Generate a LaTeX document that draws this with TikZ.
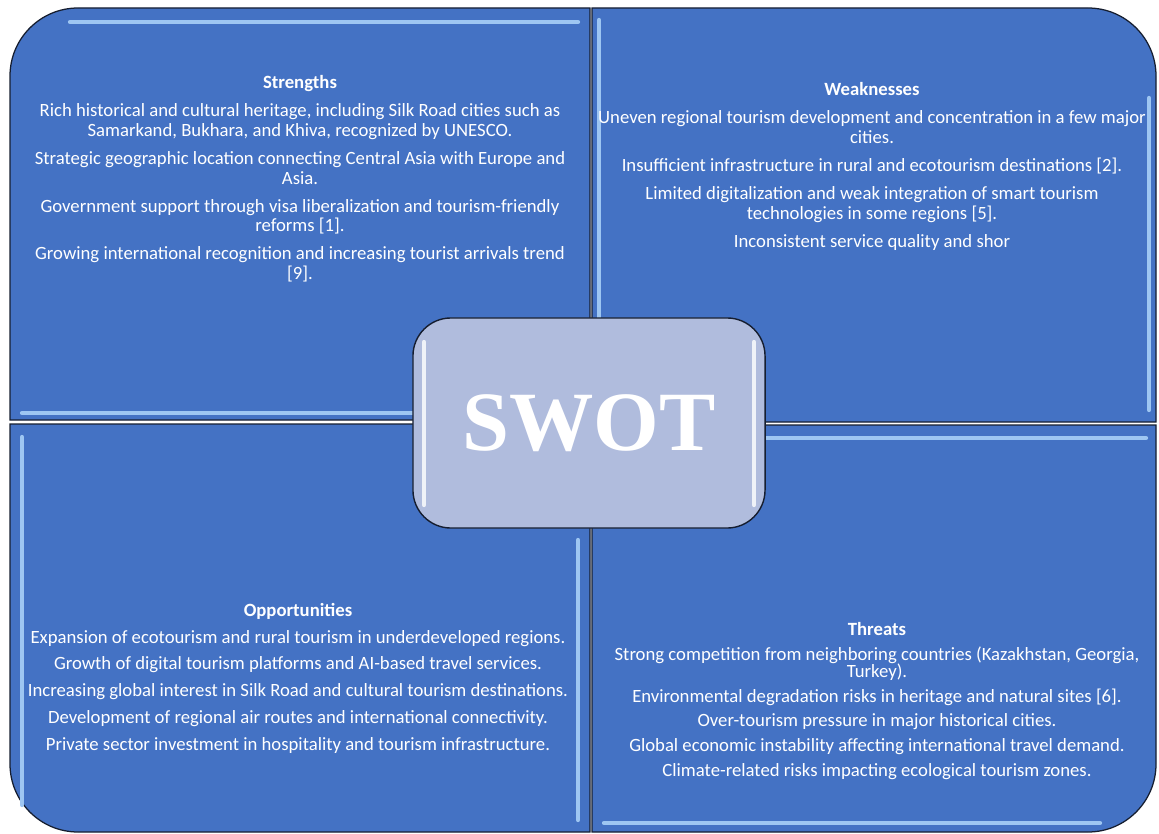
\documentclass[tikz,border=0pt]{standalone}
\usepackage{fontspec}
\setmainfont{Carlito}
\newfontfamily\swotfont{Liberation Serif}
\usepackage{tikz}
\definecolor{quadblue}{RGB}{68,114,196}
\definecolor{hilite}{RGB}{158,198,242}
\definecolor{centerfill}{RGB}{176,188,221}
\definecolor{edgedark}{RGB}{22,30,48}

\begin{document}
\begin{tikzpicture}[x=0.025cm, y=-0.025cm,
  quad/.style={fill=quadblue, draw=edgedark, line width=0.9pt},
  gloss/.style={draw=hilite, line width=3pt, line cap=round},
  swotgloss/.style={draw=white!80!centerfill, line width=3pt, line cap=round},
  body/.style={text=white, align=center, inner sep=0pt, anchor=north,
    font=\fontsize{13.3}{12.5}\selectfont},
  loosebody/.style={body, font=\fontsize{13.3}{14}\selectfont},
  swotbox/.style={fill=centerfill, draw=edgedark, line width=1pt,
    rounded corners=0.95cm, minimum width=8.8cm, minimum height=5.25cm,
    text=white, font=\swotfont\bfseries\fontsize{60}{60}\selectfont}]
\useasboundingbox (0,0) rectangle (1159,834);

% the four quadrants
\draw[quad] (590,420) -- (10,420) -- (10,76) arc[start angle=180, end angle=270, radius=68] -- (590,8) -- cycle;
\draw[quad] (592,8) -- (1088,8) arc[start angle=270, end angle=360, radius=68] -- (1156,422) -- (592,422) -- cycle;
\draw[quad] (10,424) -- (590,424) -- (590,832) -- (78,832) arc[start angle=90, end angle=180, radius=68] -- cycle;
\draw[quad] (592,425) -- (1156,425) -- (1156,764) arc[start angle=0, end angle=90, radius=68] -- (592,832) -- cycle;

% bevel highlights
\draw[gloss] (70,22) -- (578,22);
\draw[gloss] (22,413) -- (580,413);
\draw[gloss] (599,20) -- (599,410);
\draw[gloss] (1149,98) -- (1149,410);
\draw[gloss] (22,437) -- (22,805);
\draw[gloss] (578,540) -- (578,820);
\draw[gloss] (602,438) -- (1146,438);
\draw[gloss] (604,823) -- (1100,823);

% centre box
\node[swotbox] (swot) at (589,423) {SWOT};
\draw[swotgloss] (424,342) -- (424,505);
\draw[swotgloss] (754,342) -- (754,505);

% texts
\node[loosebody] (strengths) at (300,75) {\textbf{Strengths}\\[6pt]
  Rich historical and cultural heritage, including Silk Road cities such as\\
  Samarkand, Bukhara, and Khiva, recognized by UNESCO.\\[6pt]
  Strategic geographic location connecting Central Asia with Europe and\\
  Asia.\\[6pt]
  Government support through visa liberalization and tourism-friendly\\
  reforms [1].\\[6pt]
  Growing international recognition and increasing tourist arrivals trend\\
  {[9]}.};

\node[loosebody] (weaknesses) at (872,82) {\textbf{Weaknesses}\\[6pt]
  Uneven regional tourism development and concentration in a few major\\
  cities.\\[6pt]
  Insufficient infrastructure in rural and ecotourism destinations [2].\\[6pt]
  Limited digitalization and weak integration of smart tourism\\
  technologies in some regions [5].\\[6pt]
  Inconsistent service quality and shor};

\node[body] (opps) at (298,603) {\textbf{Opportunities}\\[6.5pt]
  Expansion of ecotourism and rural tourism in underdeveloped regions.\\[6.5pt]
  Growth of digital tourism platforms and AI-based travel services.\\[6.5pt]
  Increasing global interest in Silk Road and cultural tourism destinations.\\[6.5pt]
  Development of regional air routes and international connectivity.\\[6.5pt]
  Private sector investment in hospitality and tourism infrastructure.};

\node[body] (threats) at (877,622) {\textbf{Threats}\\[5pt]
  Strong competition from neighboring countries (Kazakhstan, Georgia,\\
  Turkey).\\[5pt]
  Environmental degradation risks in heritage and natural sites [6].\\[5pt]
  Over-tourism pressure in major historical cities.\\[5pt]
  Global economic instability affecting international travel demand.\\[5pt]
  Climate-related risks impacting ecological tourism zones.};
\end{tikzpicture}
\end{document}
